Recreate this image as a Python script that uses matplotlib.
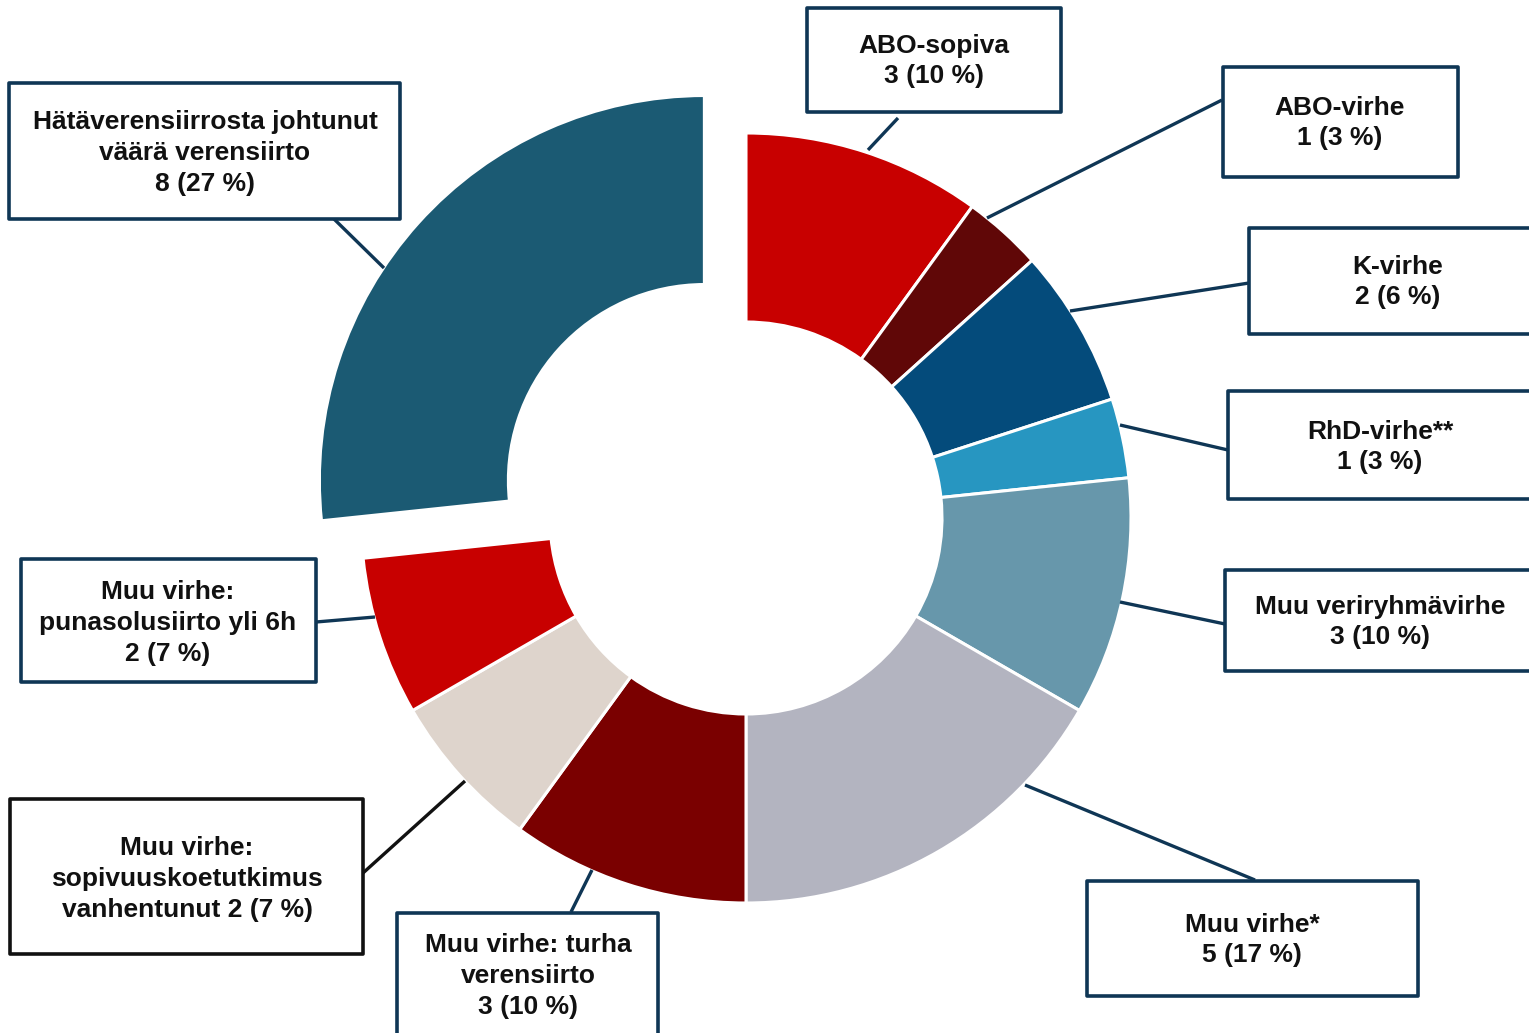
import matplotlib
matplotlib.use("Agg")
import matplotlib.pyplot as plt
from matplotlib.patches import Rectangle

# --- data ---------------------------------------------------------------
categories = [
    "ABO-sopiva",
    "ABO-virhe",
    "K-virhe",
    "RhD-virhe**",
    "Muu veriryhmävirhe",
    "Muu virhe*",
    "Muu virhe: turha verensiirto",
    "Muu virhe: sopivuuskoetutkimus vanhentunut",
    "Muu virhe: punasolusiirto yli 6h",
    "Hätäverensiirrosta johtunut väärä verensiirto",
]
counts = [3, 1, 2, 1, 3, 5, 3, 2, 2, 8]
label_texts = [
    "ABO-sopiva\n3 (10 %)",
    "ABO-virhe\n1 (3 %)",
    "K-virhe\n2 (6 %)",
    "RhD-virhe**\n1 (3 %)",
    "Muu veriryhmävirhe\n3 (10 %)",
    "Muu virhe*\n5 (17 %)",
    "Muu virhe: turha\nverensiirto\n3 (10 %)",
    "Muu virhe:\nsopivuuskoetutkimus\nvanhentunut 2 (7 %)",
    "Muu virhe:\npunasolusiirto yli 6h\n2 (7 %)",
    "Hätäverensiirrosta johtunut\nväärä verensiirto\n8 (27 %)",
]
colors = ["#C80000", "#600707", "#044B7B", "#2796C1", "#6797AB",
          "#B3B4C0", "#7A0000", "#DED4CC", "#C80000", "#1B5A73"]

# --- layout (pixel canvas, y measured from top) -------------------------
W, H = 1529, 1033
CX, CY, R_OUT, R_IN = 746, 518, 385, 196
explode = [0, 0, 0, 0, 0, 0, 0, 0, 0, 56]

# box: (left, top, right, bottom), text centre, leader line (x0, y0, x1, y1)
boxes = [
    ((807, 8, 1061, 112), (934, 61), (898, 118, 868, 150)),
    ((1223, 67, 1458, 177), (1340, 123), (1222, 100, 987, 218)),
    ((1249, 228, 1560, 334), (1398, 282), (1249, 283, 1070, 311)),
    ((1228, 391, 1560, 499), (1380, 447), (1228, 450, 1120, 425)),
    ((1225, 570, 1560, 671), (1380, 622), (1225, 624, 1120, 602)),
    ((1087, 881, 1418, 996), (1252, 940), (1255, 880, 1025, 785)),
    ((397, 913, 658, 1060), (528, 976), (571, 912, 592, 870)),
    ((10, 799, 363, 954), (187, 879), (363, 873, 465, 781)),
    ((21, 559, 316, 682), (168, 623), (316, 622, 375, 617)),
    ((9, 83, 400, 219), (205, 153), (334, 219, 384, 268)),
]
edge_colors = ["#0F3655"] * 7 + ["#111111"] + ["#0F3655"] * 2

fig = plt.figure(figsize=(W / 100, H / 100), dpi=100)
ax = fig.add_axes([0, 0, 1, 1])

ax.pie(counts, colors=colors, startangle=90, counterclock=False,
       radius=R_OUT, center=(CX, H - CY), explode=explode,
       wedgeprops=dict(width=R_OUT - R_IN, edgecolor="white", linewidth=2.2))

for (box, tc, line), txt, ec in zip(boxes, label_texts, edge_colors):
    x0, y0, x1, y1 = line
    ax.plot([x0, x1], [H - y0, H - y1], color=ec, lw=2.4,
            solid_capstyle="butt", zorder=3)
    l, t, r, b = box
    ax.add_patch(Rectangle((l, H - b), r - l, b - t, facecolor="white",
                           edgecolor=ec, lw=2.6, zorder=4,
                           joinstyle="round"))
    ax.text(tc[0], H - tc[1], txt, ha="center", va="center",
            fontsize=19, fontweight="bold", family="Liberation Sans",
            color="#111111", zorder=5, linespacing=1.35)

ax.set_xlim(0, W)
ax.set_ylim(0, H)
ax.set_aspect("equal")
ax.axis("off")

fig.savefig("out.png", dpi=100, facecolor="white")
